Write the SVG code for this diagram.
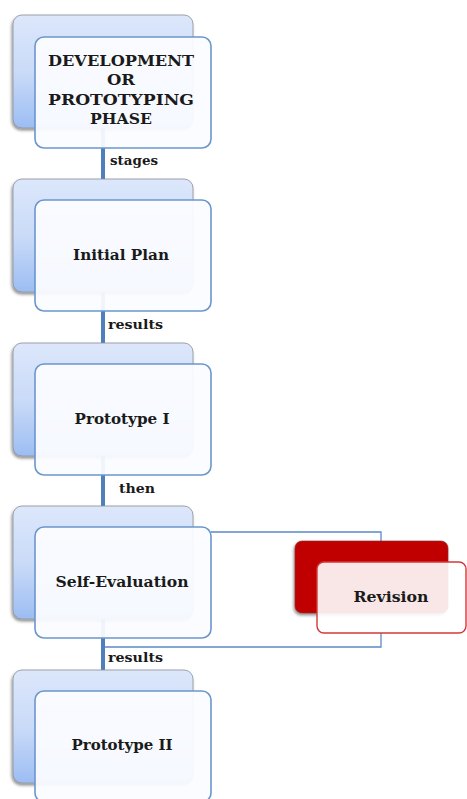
<svg xmlns="http://www.w3.org/2000/svg" width="467" height="799" viewBox="0 0 467 799">
<defs>
<linearGradient id="gb" x1="0" y1="0" x2="0" y2="1">
<stop offset="0" stop-color="#dce7fb"/>
<stop offset="0.5" stop-color="#cadbf8"/>
<stop offset="1" stop-color="#9cbdf3"/>
</linearGradient>
<filter id="sh" x="-10%" y="-10%" width="120%" height="125%">
<feDropShadow dx="-1" dy="2" stdDeviation="1.5" flood-color="#000" flood-opacity="0.45"/>
</filter>
<style>
.back{fill:url(#gb);stroke:#8a8f99;stroke-width:0.8;filter:url(#sh)}
.front{fill:#fbfcff;fill-opacity:0.94;stroke:#6b96cc;stroke-width:1.6}
.rback{fill:#c00000;stroke:#8a2020;stroke-width:0.6;filter:url(#sh)}
.rfront{fill:#ffffff;fill-opacity:0.9;stroke:#d2383a;stroke-width:1.4}
.t{font-family:"DejaVu Serif","Liberation Serif",serif;font-weight:bold;font-size:14px;fill:#1a1a1a;text-anchor:middle}
.cap{font-size:14.5px}
.lab{font-family:"DejaVu Serif","Liberation Serif",serif;font-weight:bold;font-size:12px;fill:#1a1a1a}
.thick{stroke:#4f7fbd;stroke-width:4;fill:none}
.thin{stroke:#5b8bc8;stroke-width:1.3;fill:none}
</style>
</defs>
<g id="connectors">
<line class="thick" x1="103" y1="128" x2="103" y2="180"/>
<line class="thick" x1="103" y1="292" x2="103" y2="344"/>
<line class="thick" x1="103" y1="456" x2="103" y2="507"/>
<line class="thick" x1="103" y1="619" x2="103" y2="671"/>
<polyline class="thin" points="211,532 381,532 381,542"/>
<polyline class="thin" points="381,633 381,647 105,647"/>
<text class="lab" x="110" y="165" textLength="48" lengthAdjust="spacingAndGlyphs">stages</text>
<text class="lab" x="108" y="329" textLength="55" lengthAdjust="spacingAndGlyphs">results</text>
<text class="lab" x="119" y="493" textLength="36" lengthAdjust="spacingAndGlyphs">then</text>
<text class="lab" x="108" y="662" textLength="55" lengthAdjust="spacingAndGlyphs">results</text>
</g>
<g id="node-development">
<rect class="back" x="13" y="15" width="180" height="113" rx="9"/>
<rect class="front" x="35" y="37" width="176" height="111" rx="9"/>
<text class="t cap" x="121" y="66" textLength="146" lengthAdjust="spacingAndGlyphs">DEVELOPMENT</text>
<text class="t cap" x="121" y="85" textLength="28" lengthAdjust="spacingAndGlyphs">OR</text>
<text class="t cap" x="121" y="105" textLength="146" lengthAdjust="spacingAndGlyphs">PROTOTYPING</text>
<text class="t cap" x="121" y="124" textLength="62" lengthAdjust="spacingAndGlyphs">PHASE</text>
</g>
<g id="node-initial-plan">
<rect class="back" x="13" y="179" width="180" height="113" rx="9"/>
<rect class="front" x="35" y="200" width="176" height="111" rx="9"/>
<text class="t" x="121" y="260" textLength="96" lengthAdjust="spacingAndGlyphs">Initial Plan</text>
</g>
<g id="node-prototype-1">
<rect class="back" x="13" y="343" width="180" height="113" rx="9"/>
<rect class="front" x="35" y="364" width="176" height="111" rx="9"/>
<text class="t" x="122" y="424" textLength="95" lengthAdjust="spacingAndGlyphs">Prototype I</text>
</g>
<g id="node-self-evaluation">
<rect class="back" x="13" y="506" width="180" height="113" rx="9"/>
<rect class="front" x="35" y="527" width="176" height="111" rx="9"/>
<text class="t" x="122" y="587" textLength="133" lengthAdjust="spacingAndGlyphs">Self-Evaluation</text>
</g>
<g id="node-revision">
<rect class="rback" x="295" y="541" width="153" height="72" rx="7"/>
<rect class="rfront" x="317" y="562" width="149" height="71" rx="7"/>
<text class="t" x="391" y="602" textLength="75" lengthAdjust="spacingAndGlyphs">Revision</text>
</g>
<g id="node-prototype-2">
<rect class="back" x="13" y="670" width="180" height="113" rx="9"/>
<rect class="front" x="35" y="691" width="176" height="111" rx="9"/>
<text class="t" x="122" y="750" textLength="101" lengthAdjust="spacingAndGlyphs">Prototype II</text>
</g>
</svg>
